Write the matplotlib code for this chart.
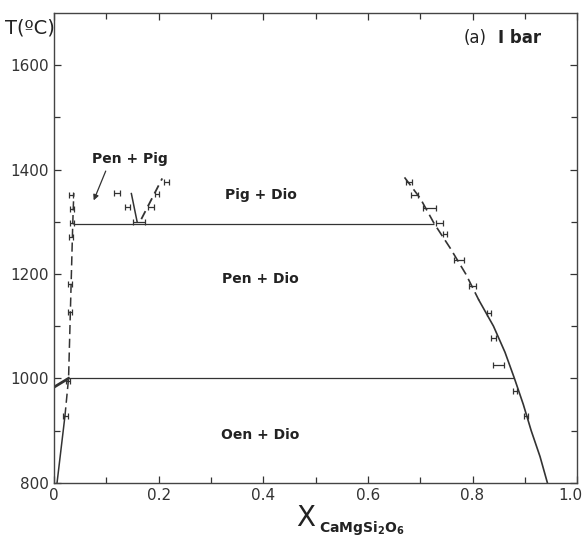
import numpy as np
import matplotlib.pyplot as plt
from matplotlib.transforms import ScaledTranslation

plt.rcParams['font.family'] = ['DejaVu Sans']

# experimental points (x, T, x error)
pen_x = [0.033, 0.034, 0.034, 0.033, 0.031, 0.030, 0.027, 0.022]
pen_T = [1352, 1325, 1298, 1270, 1180, 1128, 995, 927]
pen_err = [0.004] * 8

pig_x = [0.121, 0.140, 0.163, 0.186, 0.197, 0.215]
pig_T = [1356, 1329, 1300, 1329, 1354, 1377]
pig_err = [0.006, 0.005, 0.011, 0.006, 0.004, 0.005]

dio_x = [0.678, 0.689, 0.718, 0.737, 0.747, 0.774, 0.800, 0.831, 0.840, 0.850, 0.881, 0.902]
dio_T = [1377, 1352, 1327, 1298, 1277, 1227, 1177, 1125, 1077, 1025, 975, 927]
dio_err = [0.006, 0.007, 0.013, 0.006, 0.004, 0.009, 0.006, 0.004, 0.004, 0.011, 0.004, 0.004]

# phase boundaries
pen_solid_x = [0.006, 0.021]
pen_solid_T = [800, 927]
pen_dash_x = [0.021, 0.028, 0.036, 0.038]
pen_dash_T = [927, 1000, 1296, 1355]
oen_pen_x = [0.0, 0.028]
oen_pen_T = [983, 1000]
pig_solid_x = [0.148, 0.159]
pig_solid_T = [1354, 1300]
pig_dash_x = [0.167, 0.207]
pig_dash_T = [1305, 1383]
dio_dash_x = [0.670, 0.700, 0.727, 0.757, 0.787, 0.812]
dio_dash_T = [1385, 1345, 1296, 1250, 1200, 1150]
dio_solid_x = [0.812, 0.840, 0.862, 0.880, 0.897, 0.912, 0.929, 0.943]
dio_solid_T = [1150, 1100, 1050, 1000, 950, 900, 850, 800]
iso_T = [1296, 1000]
iso_x0 = [0.036, 0.028]
iso_x1 = [0.727, 0.880]

fig = plt.figure(figsize=(5.86, 5.40), dpi=100)
ax = fig.add_axes([0.092, 0.106, 0.893, 0.870])
c = '#333333'

ax.plot(pen_solid_x, pen_solid_T, color=c, lw=1.1)
ax.plot(pen_dash_x, pen_dash_T, color=c, lw=1.1, dashes=(6, 3))
ax.plot(oen_pen_x, oen_pen_T, color=c, lw=2.0)
ax.plot(pig_solid_x, pig_solid_T, color=c, lw=1.1)
ax.plot(pig_dash_x, pig_dash_T, color=c, lw=1.3, dashes=(5, 3))
ax.plot(dio_dash_x, dio_dash_T, color=c, lw=1.2, dashes=(6, 3))
ax.plot(dio_solid_x, dio_solid_T, color=c, lw=1.2)
ax.hlines(iso_T, iso_x0, iso_x1, color=c, lw=0.9)

for xs, ts, es in [(pen_x, pen_T, pen_err), (pig_x, pig_T, pig_err), (dio_x, dio_T, dio_err)]:
    ax.errorbar(xs, ts, xerr=es, fmt='none', ecolor=c, elinewidth=0.9,
                capsize=2, capthick=0.9)

lab = dict(ha='center', va='center', fontsize=10, fontweight='bold', color='#222222')
ax.text(0.395, 1352, 'Pig + Dio', **lab)
ax.text(0.395, 1190, 'Pen + Dio', **lab)
ax.text(0.395, 892, 'Oen + Dio', **lab)
ax.text(0.146, 1421, 'Pen + Pig', **lab)
ax.annotate('', xy=(0.074, 1336), xytext=(0.101, 1402),
            arrowprops=dict(arrowstyle='-|>', color=c, lw=0.9, mutation_scale=8))
ax.text(0.826, 1652, '(a)', ha='right', va='center', fontsize=12, color='#222222')
ax.text(0.849, 1652, 'I bar', ha='left', va='center', fontsize=12, fontweight='bold',
        color='#222222')

ax.set_xlim(0, 1.0)
ax.set_ylim(800, 1700)
ax.set_xticks(np.arange(0, 1.01, 0.2))
ax.set_xticklabels(['0', '0.2', '0.4', '0.6', '0.8', '1.0'])
ax.set_xticks(np.arange(0.1, 1.0, 0.2), minor=True)
ax.set_yticks([800, 1000, 1200, 1400, 1600])
ax.set_yticks([900, 1100, 1300, 1500], minor=True)
ax.tick_params(which='both', direction='in', top=True, right=True,
               labelsize=11, colors='#333333', width=0.9)
ax.tick_params(which='major', length=5)
ax.tick_params(which='minor', length=4)
for s in ax.spines.values():
    s.set_color('#444444')
    s.set_linewidth(1.0)

# keep the last x label inside the figure
last = ax.get_xticklabels()[-1]
last.set_transform(last.get_transform() + ScaledTranslation(-5 / 72, 0, fig.dpi_scale_trans))

fig.text(0.008, 0.948, 'T(ºC)', fontsize=14, va='center', ha='left', color='#222222')
fig.text(0.506, 0.040, 'X', fontsize=20, va='center', ha='left', color='#222222')
fig.text(0.544, 0.022, r'$\mathbf{CaMgSi_2O_6}$', fontsize=10, va='center', ha='left',
         color='#222222')

fig.savefig('out.png', dpi=100)
